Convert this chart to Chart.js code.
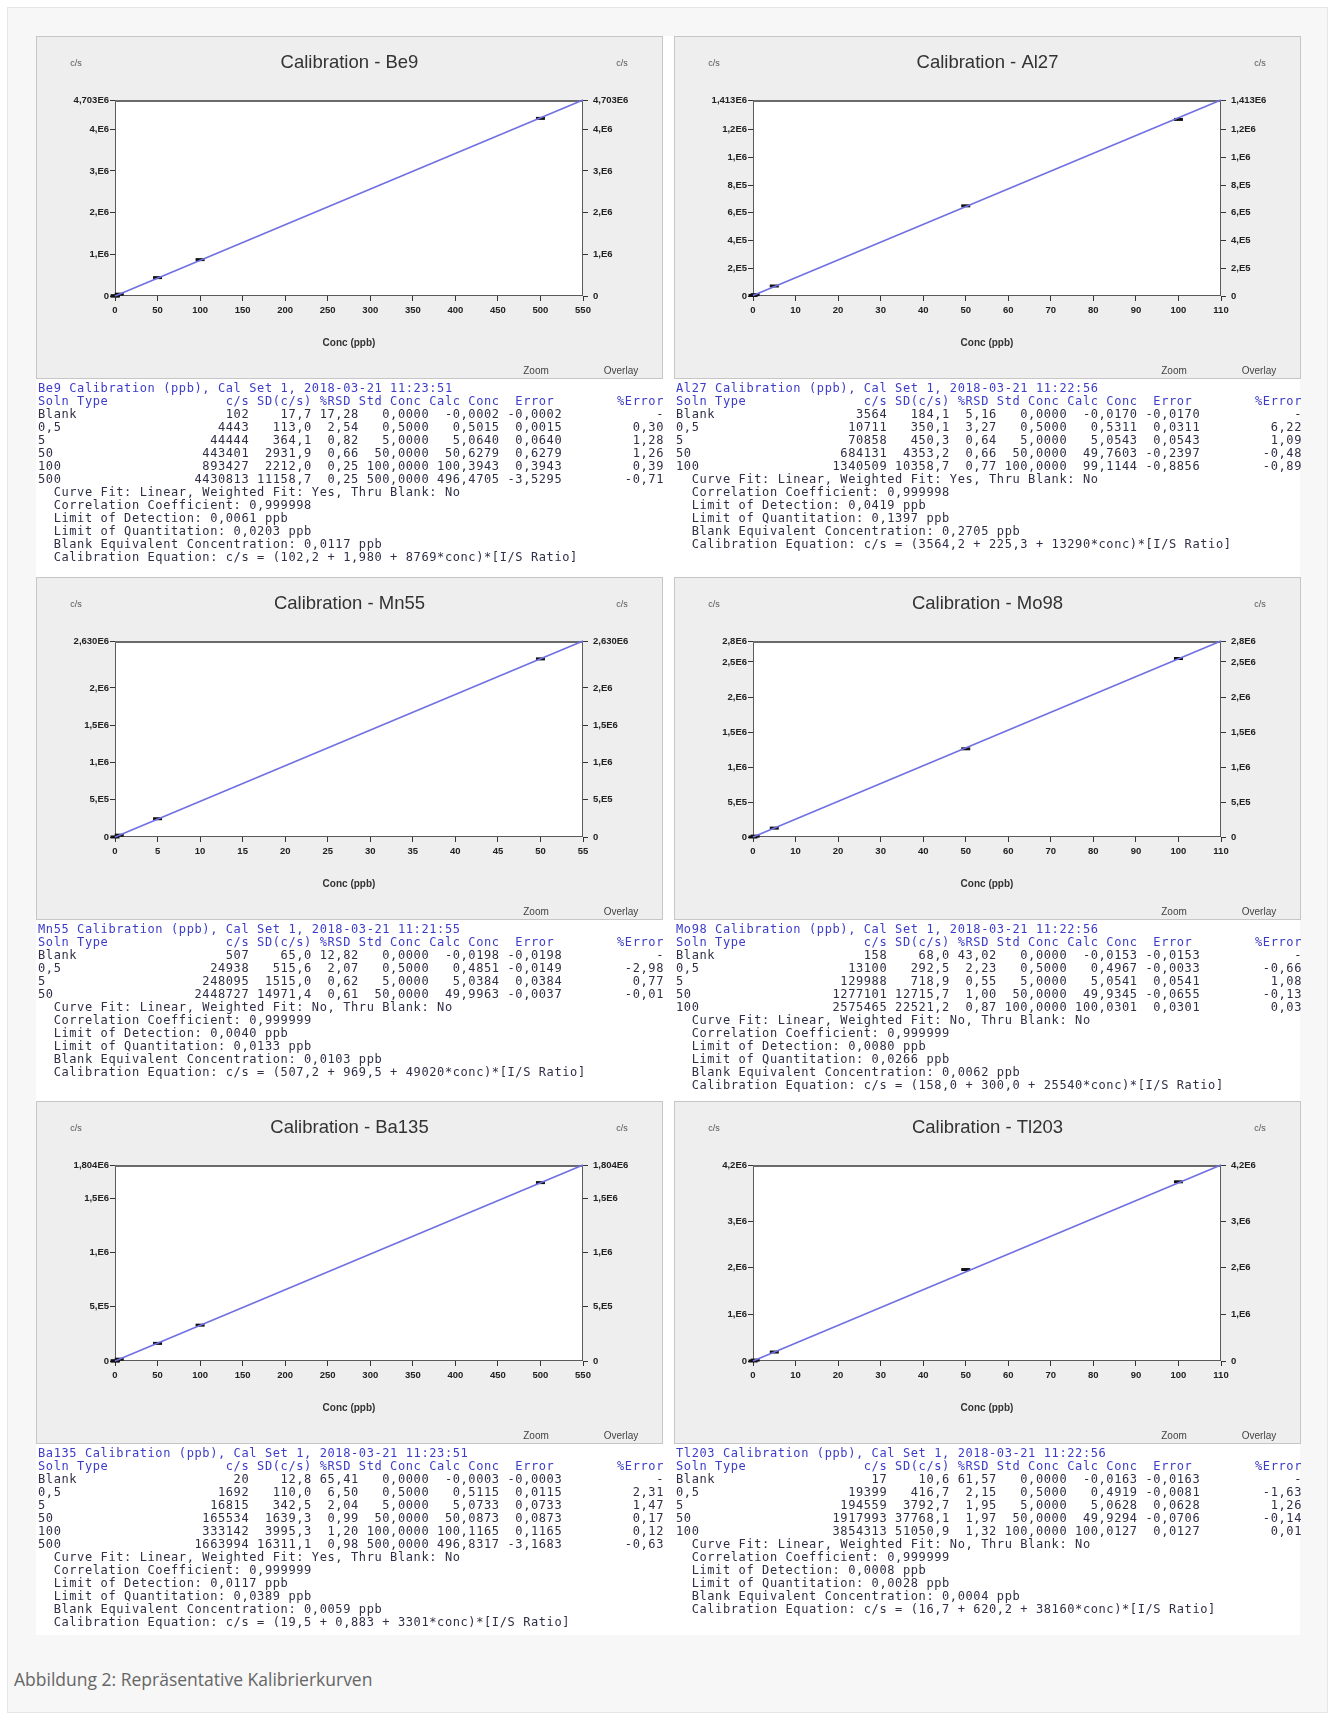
<!DOCTYPE html>
<html lang="de">
<head>
<meta charset="utf-8">
<title>Repräsentative Kalibrierkurven</title>
<script src="https://cdn.jsdelivr.net/npm/chart.js@4.4.1/dist/chart.umd.min.js"></script>
<style>
  html, body { margin: 0; padding: 0; background: #fff; }
  body { position: relative; width: 1335px; height: 1720px; overflow: hidden; font-family: "Liberation Sans", Arial, sans-serif; }
  #card { position: absolute; left: 7px; top: 7px; width: 1319px; height: 1704px; background: #f7f7f7; border: 1px solid #e6e6e6; }
  #sheet { position: absolute; left: 36px; top: 36px; width: 1264px; height: 1599px; background: #fff; }
  .panel { position: absolute; width: 627px; height: 343px; background: #eeeeee; box-shadow: inset 0 0 0 1px #c6c6c6; }
  .panel canvas { position: absolute; left: 0; top: 0; }
  .lbl { position: absolute; font-size: 9px; color: #555; transform: translate(-50%, -50%); white-space: nowrap; }
  .report { position: absolute; margin: 0; font-family: "DejaVu Sans Mono", "Liberation Mono", monospace; font-size: 12px; letter-spacing: 0.6px; line-height: 13px; color: #2e2e46; white-space: pre; }
  .report .hd { color: #3c3cc8; }
  #caption { position: absolute; left: 14px; top: 1667px; font-family: "Open Sans", sans-serif; font-size: 17.5px; color: #666; }
</style>
</head>
<body>
<div id="card"></div>
<div id="sheet"></div>
<div id="caption">Abbildung 2: Repräsentative Kalibrierkurven</div>

<script>
// Calibration data

// --- Be9 ---
const be9Conc = [0, 0.5, 5, 50, 100, 500];
const be9Counts = [102, 4400, 44000, 441000, 873000, 4262000];
const be9FitX = [0, 550];
const be9FitY = [102, 4703000];
const be9XTicks = [0, 50, 100, 150, 200, 250, 300, 350, 400, 450, 500, 550];
const be9YTicks = [0, 1000000, 2000000, 3000000, 4000000, 4703000];
const be9YLabels = ['0', '1,E6', '2,E6', '3,E6', '4,E6', '4,703E6'];
const be9Title = 'Be9 Calibration (ppb), Cal Set 1, 2018-03-21 11:23:51';
const be9Rows = [
  ['Blank', '102', '17,7', '17,28', '0,0000', '-0,0002', '-0,0002', '-'],
  ['0,5', '4443', '113,0', '2,54', '0,5000', '0,5015', '0,0015', '0,30'],
  ['5', '44444', '364,1', '0,82', '5,0000', '5,0640', '0,0640', '1,28'],
  ['50', '443401', '2931,9', '0,66', '50,0000', '50,6279', '0,6279', '1,26'],
  ['100', '893427', '2212,0', '0,25', '100,0000', '100,3943', '0,3943', '0,39'],
  ['500', '4430813', '11158,7', '0,25', '500,0000', '496,4705', '-3,5295', '-0,71'],
];
const be9Info = [
  'Curve Fit: Linear, Weighted Fit: Yes, Thru Blank: No',
  'Correlation Coefficient: 0,999998',
  'Limit of Detection: 0,0061 ppb',
  'Limit of Quantitation: 0,0203 ppb',
  'Blank Equivalent Concentration: 0,0117 ppb',
  'Calibration Equation: c/s = (102,2 + 1,980 + 8769*conc)*[I/S Ratio]',
];

// --- Al27 ---
const al27Conc = [0, 0.5, 5, 50, 100];
const al27Counts = [3564, 10000, 72000, 650000, 1273000];
const al27FitX = [0, 110];
const al27FitY = [3564, 1413000];
const al27XTicks = [0, 10, 20, 30, 40, 50, 60, 70, 80, 90, 100, 110];
const al27YTicks = [0, 200000, 400000, 600000, 800000, 1000000, 1200000, 1413000];
const al27YLabels = ['0', '2,E5', '4,E5', '6,E5', '8,E5', '1,E6', '1,2E6', '1,413E6'];
const al27Title = 'Al27 Calibration (ppb), Cal Set 1, 2018-03-21 11:22:56';
const al27Rows = [
  ['Blank', '3564', '184,1', '5,16', '0,0000', '-0,0170', '-0,0170', '-'],
  ['0,5', '10711', '350,1', '3,27', '0,5000', '0,5311', '0,0311', '6,22'],
  ['5', '70858', '450,3', '0,64', '5,0000', '5,0543', '0,0543', '1,09'],
  ['50', '684131', '4353,2', '0,66', '50,0000', '49,7603', '-0,2397', '-0,48'],
  ['100', '1340509', '10358,7', '0,77', '100,0000', '99,1144', '-0,8856', '-0,89'],
];
const al27Info = [
  'Curve Fit: Linear, Weighted Fit: Yes, Thru Blank: No',
  'Correlation Coefficient: 0,999998',
  'Limit of Detection: 0,0419 ppb',
  'Limit of Quantitation: 0,1397 ppb',
  'Blank Equivalent Concentration: 0,2705 ppb',
  'Calibration Equation: c/s = (3564,2 + 225,3 + 13290*conc)*[I/S Ratio]',
];

// --- Mn55 ---
const mn55Conc = [0, 0.5, 5, 50];
const mn55Counts = [507, 24500, 245000, 2390000];
const mn55FitX = [0, 55];
const mn55FitY = [507, 2630000];
const mn55XTicks = [0, 5, 10, 15, 20, 25, 30, 35, 40, 45, 50, 55];
const mn55YTicks = [0, 500000, 1000000, 1500000, 2000000, 2630000];
const mn55YLabels = ['0', '5,E5', '1,E6', '1,5E6', '2,E6', '2,630E6'];
const mn55Title = 'Mn55 Calibration (ppb), Cal Set 1, 2018-03-21 11:21:55';
const mn55Rows = [
  ['Blank', '507', '65,0', '12,82', '0,0000', '-0,0198', '-0,0198', '-'],
  ['0,5', '24938', '515,6', '2,07', '0,5000', '0,4851', '-0,0149', '-2,98'],
  ['5', '248095', '1515,0', '0,62', '5,0000', '5,0384', '0,0384', '0,77'],
  ['50', '2448727', '14971,4', '0,61', '50,0000', '49,9963', '-0,0037', '-0,01'],
];
const mn55Info = [
  'Curve Fit: Linear, Weighted Fit: No, Thru Blank: No',
  'Correlation Coefficient: 0,999999',
  'Limit of Detection: 0,0040 ppb',
  'Limit of Quantitation: 0,0133 ppb',
  'Blank Equivalent Concentration: 0,0103 ppb',
  'Calibration Equation: c/s = (507,2 + 969,5 + 49020*conc)*[I/S Ratio]',
];

// --- Mo98 ---
const mo98Conc = [0, 0.5, 5, 50, 100];
const mo98Counts = [158, 12700, 127000, 1260000, 2550000];
const mo98FitX = [0, 110];
const mo98FitY = [158, 2800000];
const mo98XTicks = [0, 10, 20, 30, 40, 50, 60, 70, 80, 90, 100, 110];
const mo98YTicks = [0, 500000, 1000000, 1500000, 2000000, 2500000, 2800000];
const mo98YLabels = ['0', '5,E5', '1,E6', '1,5E6', '2,E6', '2,5E6', '2,8E6'];
const mo98Title = 'Mo98 Calibration (ppb), Cal Set 1, 2018-03-21 11:22:56';
const mo98Rows = [
  ['Blank', '158', '68,0', '43,02', '0,0000', '-0,0153', '-0,0153', '-'],
  ['0,5', '13100', '292,5', '2,23', '0,5000', '0,4967', '-0,0033', '-0,66'],
  ['5', '129988', '718,9', '0,55', '5,0000', '5,0541', '0,0541', '1,08'],
  ['50', '1277101', '12715,7', '1,00', '50,0000', '49,9345', '-0,0655', '-0,13'],
  ['100', '2575465', '22521,2', '0,87', '100,0000', '100,0301', '0,0301', '0,03'],
];
const mo98Info = [
  'Curve Fit: Linear, Weighted Fit: No, Thru Blank: No',
  'Correlation Coefficient: 0,999999',
  'Limit of Detection: 0,0080 ppb',
  'Limit of Quantitation: 0,0266 ppb',
  'Blank Equivalent Concentration: 0,0062 ppb',
  'Calibration Equation: c/s = (158,0 + 300,0 + 25540*conc)*[I/S Ratio]',
];

// --- Ba135 ---
const ba135Conc = [0, 0.5, 5, 50, 100, 500];
const ba135Counts = [20, 1650, 16500, 162000, 330000, 1642000];
const ba135FitX = [0, 550];
const ba135FitY = [20, 1804000];
const ba135XTicks = [0, 50, 100, 150, 200, 250, 300, 350, 400, 450, 500, 550];
const ba135YTicks = [0, 500000, 1000000, 1500000, 1804000];
const ba135YLabels = ['0', '5,E5', '1,E6', '1,5E6', '1,804E6'];
const ba135Title = 'Ba135 Calibration (ppb), Cal Set 1, 2018-03-21 11:23:51';
const ba135Rows = [
  ['Blank', '20', '12,8', '65,41', '0,0000', '-0,0003', '-0,0003', '-'],
  ['0,5', '1692', '110,0', '6,50', '0,5000', '0,5115', '0,0115', '2,31'],
  ['5', '16815', '342,5', '2,04', '5,0000', '5,0733', '0,0733', '1,47'],
  ['50', '165534', '1639,3', '0,99', '50,0000', '50,0873', '0,0873', '0,17'],
  ['100', '333142', '3995,3', '1,20', '100,0000', '100,1165', '0,1165', '0,12'],
  ['500', '1663994', '16311,1', '0,98', '500,0000', '496,8317', '-3,1683', '-0,63'],
];
const ba135Info = [
  'Curve Fit: Linear, Weighted Fit: Yes, Thru Blank: No',
  'Correlation Coefficient: 0,999999',
  'Limit of Detection: 0,0117 ppb',
  'Limit of Quantitation: 0,0389 ppb',
  'Blank Equivalent Concentration: 0,0059 ppb',
  'Calibration Equation: c/s = (19,5 + 0,883 + 3301*conc)*[I/S Ratio]',
];

// --- Tl203 ---
const tl203Conc = [0, 0.5, 5, 50, 100];
const tl203Counts = [17, 19200, 192000, 1960000, 3840000];
const tl203FitX = [0, 110];
const tl203FitY = [17, 4200000];
const tl203XTicks = [0, 10, 20, 30, 40, 50, 60, 70, 80, 90, 100, 110];
const tl203YTicks = [0, 1000000, 2000000, 3000000, 4200000];
const tl203YLabels = ['0', '1,E6', '2,E6', '3,E6', '4,2E6'];
const tl203Title = 'Tl203 Calibration (ppb), Cal Set 1, 2018-03-21 11:22:56';
const tl203Rows = [
  ['Blank', '17', '10,6', '61,57', '0,0000', '-0,0163', '-0,0163', '-'],
  ['0,5', '19399', '416,7', '2,15', '0,5000', '0,4919', '-0,0081', '-1,63'],
  ['5', '194559', '3792,7', '1,95', '5,0000', '5,0628', '0,0628', '1,26'],
  ['50', '1917993', '37768,1', '1,97', '50,0000', '49,9294', '-0,0706', '-0,14'],
  ['100', '3854313', '51050,9', '1,32', '100,0000', '100,0127', '0,0127', '0,01'],
];
const tl203Info = [
  'Curve Fit: Linear, Weighted Fit: No, Thru Blank: No',
  'Correlation Coefficient: 0,999999',
  'Limit of Detection: 0,0008 ppb',
  'Limit of Quantitation: 0,0028 ppb',
  'Blank Equivalent Concentration: 0,0004 ppb',
  'Calibration Equation: c/s = (16,7 + 620,2 + 38160*conc)*[I/S Ratio]',
];

const tableHead = ['Soln Type', 'c/s', 'SD(c/s)', '%RSD', 'Std Conc', 'Calc Conc', 'Error', '%Error'];
const headWidths = [18, 9, 8, 5, 9, 10, 7, 14];
const colWidths = [18, 9, 8, 6, 9, 9, 8, 13];

const panels = [
  { id: 'be9', name: 'Be9', left: 36, top: 36, conc: be9Conc, counts: be9Counts, fitX: be9FitX, fitY: be9FitY, xTicks: be9XTicks, yTicks: be9YTicks, yLabels: be9YLabels, title: be9Title, rows: be9Rows, info: be9Info },
  { id: 'al27', name: 'Al27', left: 674, top: 36, conc: al27Conc, counts: al27Counts, fitX: al27FitX, fitY: al27FitY, xTicks: al27XTicks, yTicks: al27YTicks, yLabels: al27YLabels, title: al27Title, rows: al27Rows, info: al27Info },
  { id: 'mn55', name: 'Mn55', left: 36, top: 577, conc: mn55Conc, counts: mn55Counts, fitX: mn55FitX, fitY: mn55FitY, xTicks: mn55XTicks, yTicks: mn55YTicks, yLabels: mn55YLabels, title: mn55Title, rows: mn55Rows, info: mn55Info },
  { id: 'mo98', name: 'Mo98', left: 674, top: 577, conc: mo98Conc, counts: mo98Counts, fitX: mo98FitX, fitY: mo98FitY, xTicks: mo98XTicks, yTicks: mo98YTicks, yLabels: mo98YLabels, title: mo98Title, rows: mo98Rows, info: mo98Info },
  { id: 'ba135', name: 'Ba135', left: 36, top: 1101, conc: ba135Conc, counts: ba135Counts, fitX: ba135FitX, fitY: ba135FitY, xTicks: ba135XTicks, yTicks: ba135YTicks, yLabels: ba135YLabels, title: ba135Title, rows: ba135Rows, info: ba135Info },
  { id: 'tl203', name: 'Tl203', left: 674, top: 1101, conc: tl203Conc, counts: tl203Counts, fitX: tl203FitX, fitY: tl203FitY, xTicks: tl203XTicks, yTicks: tl203YTicks, yLabels: tl203YLabels, title: tl203Title, rows: tl203Rows, info: tl203Info },
];

const PANEL_W = 627;
const PANEL_H = 343;

/**
 * White plot background and dark frame round the chart area
 */
const plotFrame = {
  id: 'plotFrame',
  beforeDraw(chart) {
    const { ctx, chartArea: a } = chart;
    ctx.save();
    ctx.fillStyle = '#ffffff';
    ctx.fillRect(a.left, a.top, a.width, a.height);
    ctx.restore();
  },
  beforeDatasetsDraw(chart) {
    const { ctx, chartArea: a } = chart;
    ctx.save();
    ctx.strokeStyle = '#5a5a5a';
    ctx.lineWidth = 1;
    ctx.strokeRect(a.left + 0.5, a.top + 0.5, a.width - 1, a.height - 1);
    ctx.strokeStyle = '#6a6a6a';
    ctx.lineWidth = 2;
    ctx.beginPath();
    ctx.moveTo(a.left, a.top + 1);
    ctx.lineTo(a.right, a.top + 1);
    ctx.stroke();
    ctx.restore();
  },
};

function fmtRow(cells, widths) {
  return cells.map((c, i) => (i === 0 ? c.padEnd(widths[0]) : c.padStart(widths[i]))).join('');
}

function escapeHtml(s) {
  return s.replace(/&/g, '&amp;').replace(/</g, '&lt;').replace(/>/g, '&gt;');
}

function fixTicks(values) {
  return (scale) => {
    scale.ticks = values.map((v) => ({ value: v }));
  };
}

function yAxis(p, position, width, pad) {
  return {
    type: 'linear',
    position,
    min: 0,
    max: p.yTicks[p.yTicks.length - 1],
    afterBuildTicks: fixTicks(p.yTicks),
    afterFit: (s) => { s.width = width; },
    border: { display: false },
    grid: { drawOnChartArea: false, drawTicks: true, tickLength: 5, color: '#333', lineWidth: 1 },
    ticks: {
      autoSkip: false,
      padding: pad,
      color: '#222',
      font: { family: 'Liberation Sans', size: 9.5, weight: 'bold' },
      callback: (v, i) => p.yLabels[i],
    },
  };
}

function createCalChart(p) {
  const panel = document.createElement('div');
  panel.className = 'panel';
  panel.style.left = p.left + 'px';
  panel.style.top = p.top + 'px';
  panel.innerHTML =
    `<canvas id="c-${p.id}" width="${PANEL_W}" height="${PANEL_H}"></canvas>` +
    '<span class="lbl" style="left:40px;top:27px">c/s</span>' +
    '<span class="lbl" style="left:586px;top:27px">c/s</span>' +
    '<span class="lbl" style="left:500px;top:334px;font-size:10px;color:#444">Zoom</span>' +
    '<span class="lbl" style="left:585px;top:334px;font-size:10px;color:#444">Overlay</span>';
  document.body.appendChild(panel);

  const report = document.createElement('pre');
  report.className = 'report';
  report.style.left = p.left + 2 + 'px';
  report.style.top = p.top + PANEL_H + 3 + 'px';
  const lines = [];
  lines.push(`<span class="hd">${escapeHtml(p.title)}</span>`);
  lines.push(`<span class="hd">${escapeHtml(fmtRow(tableHead, headWidths))}</span>`);
  p.rows.forEach((r) => lines.push(escapeHtml(fmtRow(r, colWidths))));
  p.info.forEach((t) => lines.push('  ' + escapeHtml(t)));
  report.innerHTML = lines.join('\n');
  document.body.appendChild(report);

  const ctx = document.getElementById(`c-${p.id}`);
  return new Chart(ctx, {
    type: 'scatter',
    data: {
      datasets: [
        {
          label: 'Fit',
          data: p.fitX.map((x, i) => ({ x, y: p.fitY[i] })),
          showLine: true,
          borderColor: '#7070e2',
          borderWidth: 1.6,
          pointRadius: 0,
          clip: false,
        },
        {
          label: 'Standards',
          data: p.conc.map((x, i) => ({ x, y: p.counts[i] })),
          pointStyle: 'line',
          pointRadius: 4.5,
          borderColor: '#111',
          borderWidth: 3,
          clip: false,
        },
      ],
    },
    options: {
      responsive: false,
      animation: false,
      layout: { autoPadding: false, padding: 0 },
      scales: {
        x: {
          type: 'linear',
          min: 0,
          max: p.xTicks[p.xTicks.length - 1],
          afterBuildTicks: fixTicks(p.xTicks),
          afterFit: (s) => { s.height = PANEL_H - 260; },
          border: { display: false },
          grid: { drawOnChartArea: false, drawTicks: true, tickLength: 5, color: '#333', lineWidth: 1 },
          ticks: {
            autoSkip: false,
            maxRotation: 0,
            padding: 4,
            color: '#222',
            font: { family: 'Liberation Sans', size: 9.5, weight: 'bold' },
          },
          title: {
            display: true,
            text: 'Conc (ppb)',
            color: '#333',
            padding: { top: 0, bottom: 30 },
            font: { family: 'Liberation Sans', size: 10, weight: 'bold' },
          },
        },
        y: yAxis(p, 'left', 79, 1),
        y2: yAxis(p, 'right', 80, 5),
      },
      plugins: {
        legend: { display: false },
        tooltip: { enabled: false },
        title: {
          display: true,
          text: 'Calibration - ' + p.name,
          color: '#333',
          font: { family: 'Liberation Sans', size: 18.5, weight: 'normal' },
          padding: { top: 16, bottom: 25.8 },
        },
      },
    },
    plugins: [plotFrame],
  });
}

panels.forEach((p) => createCalChart(p));
</script>
</body>
</html>
